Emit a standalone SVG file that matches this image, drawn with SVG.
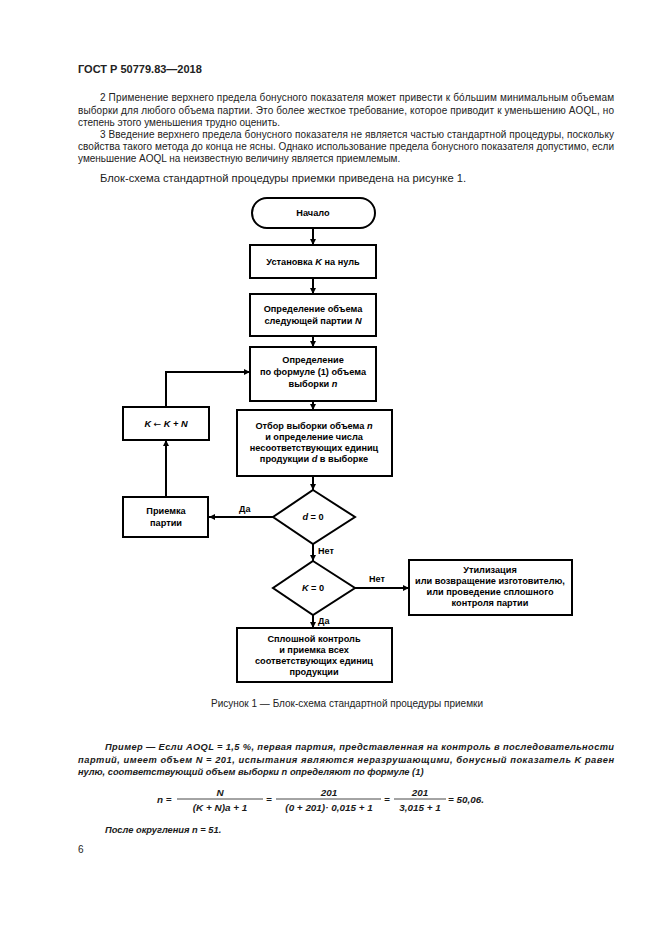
<svg xmlns="http://www.w3.org/2000/svg" width="661" height="935" viewBox="0 0 661 935">
<defs>
<marker id="ah" viewBox="0 0 6 6" refX="6" refY="3" markerWidth="6" markerHeight="6" markerUnits="userSpaceOnUse" orient="auto">
<path d="M0,0 L6,3 L0,6 Z" fill="#000"/>
</marker>
<style>
.t{font-family:"Liberation Sans",Arial,sans-serif;fill:#222}
.p{font-size:10px}
.h{font-size:11px;font-weight:bold}
.b{font-family:"Liberation Sans",Arial,sans-serif;font-size:9.2px;font-weight:bold;fill:#000;text-anchor:middle}
.bi{font-family:"Liberation Sans",Arial,sans-serif;font-size:9.3px;font-weight:bold;font-style:italic;fill:#1a1a1a}
.f{font-size:9.9px}
.box{fill:#fff;stroke:#000;stroke-width:2}
.ln{fill:none;stroke:#000;stroke-width:2}
.lb{font-family:"Liberation Sans",Arial,sans-serif;font-size:9px;font-weight:bold;fill:#000}
</style>
</defs>
<rect width="661" height="935" fill="#fff"/>

<g id="header">
<text class="t h" x="78" y="73">ГОСТ Р 50779.83—2018</text>
</g>
<g id="notes">
<text class="t p" x="100" y="101" textLength="514" lengthAdjust="spacing">2 Применение верхнего предела бонусного показателя может привести к бóльшим минимальным объемам</text>
<text class="t p" x="78" y="114" textLength="536" lengthAdjust="spacing">выборки для любого объема партии. Это более жесткое требование, которое приводит к уменьшению AOQL, но</text>
<text class="t p" x="78" y="126">степень этого уменьшения трудно оценить.</text>
<text class="t p" x="100" y="138" textLength="514" lengthAdjust="spacing">3 Введение верхнего предела бонусного показателя не является частью стандартной процедуры, поскольку</text>
<text class="t p" x="78" y="150" textLength="536" lengthAdjust="spacing">свойства такого метода до конца не ясны. Однако использование предела бонусного показателя допустимо, если</text>
<text class="t p" x="78" y="162">уменьшение AOQL на неизвестную величину является приемлемым.</text>
<text class="t" x="100" y="182" font-size="11.2">Блок-схема стандартной процедуры приемки приведена на рисунке 1.</text>
</g>

<g id="connectors">
<line class="ln" x1="313" y1="228" x2="313" y2="245" marker-end="url(#ah)"/>
<line class="ln" x1="313" y1="278" x2="313" y2="294" marker-end="url(#ah)"/>
<line class="ln" x1="313" y1="336" x2="313" y2="347" marker-end="url(#ah)"/>
<line class="ln" x1="313" y1="401" x2="313" y2="410" marker-end="url(#ah)"/>
<line class="ln" x1="313" y1="476" x2="313" y2="490" marker-end="url(#ah)"/>
<line class="ln" x1="313" y1="544" x2="313" y2="561" marker-end="url(#ah)"/>
<line class="ln" x1="313" y1="615" x2="313" y2="628" marker-end="url(#ah)"/>
<line class="ln" x1="355" y1="588" x2="409" y2="588" marker-end="url(#ah)"/>
<line class="ln" x1="273" y1="517" x2="209" y2="517" marker-end="url(#ah)"/>
<line class="ln" x1="166" y1="497" x2="166" y2="440" marker-end="url(#ah)"/>
<polyline class="ln" points="166,407 166,372 250,372" marker-end="url(#ah)"/>
<text class="lb" x="318" y="554">Нет</text>
<text class="lb" x="369" y="582">Нет</text>
<text class="lb" x="318" y="624">Да</text>
<text class="lb" x="239" y="512">Да</text>
</g>

<g id="start">
<rect class="box" x="252" y="198" width="123" height="30" rx="15" ry="15"/>
<text class="b" x="313" y="216">Начало</text>
</g>
<g id="setK">
<rect class="box" x="250" y="245" width="126" height="33"/>
<text class="b" x="313" y="265">Установка <tspan font-style="italic">K</tspan> на нуль</text>
</g>
<g id="lotN">
<rect class="box" x="250" y="294" width="126" height="42"/>
<text class="b" x="313" y="312">Определение объема</text>
<text class="b" x="313" y="324">следующей партии <tspan font-style="italic">N</tspan></text>
</g>
<g id="sampleN">
<rect class="box" x="250" y="347" width="126" height="54"/>
<text class="b" x="313" y="363">Определение</text>
<text class="b" x="313" y="375">по формуле (1) объема</text>
<text class="b" x="313" y="387">выборки <tspan font-style="italic">n</tspan></text>
</g>
<g id="select">
<rect class="box" x="237" y="410" width="155" height="66"/>
<text class="b" x="314" y="429">Отбор выборки объема <tspan font-style="italic">n</tspan></text>
<text class="b" x="314" y="440">и определение числа</text>
<text class="b" x="314" y="451">несоответствующих единиц</text>
<text class="b" x="314" y="462">продукции <tspan font-style="italic">d</tspan> в выборке</text>
</g>
<g id="dzero">
<polygon class="box" points="313,490 355,517 313,544 273,517"/>
<text class="b" x="313" y="520"><tspan font-style="italic">d</tspan> = 0</text>
</g>
<g id="kzero">
<polygon class="box" points="313,561 355,588 313,615 273,588"/>
<text class="b" x="313" y="591"><tspan font-style="italic">K</tspan> = 0</text>
</g>
<g id="accept">
<rect class="box" x="123" y="497" width="85" height="40"/>
<text class="b" x="166" y="514">Приемка</text>
<text class="b" x="166" y="526">партии</text>
</g>
<g id="kupdate">
<rect class="box" x="123" y="407" width="86" height="33"/>
<text class="b" x="166" y="427" font-style="italic">K <tspan font-family="DejaVu Sans" font-style="normal" font-weight="normal">←</tspan> K + N</text>
</g>
<g id="reject">
<rect class="box" x="409" y="560" width="163" height="55"/>
<text class="b" x="490" y="573">Утилизация</text>
<text class="b" x="490" y="584">или возвращение изготовителю,</text>
<text class="b" x="490" y="595">или проведение сплошного</text>
<text class="b" x="490" y="606">контроля партии</text>
</g>
<g id="full">
<rect class="box" x="237" y="628" width="155" height="54"/>
<text class="b" x="314" y="642">Сплошной контроль</text>
<text class="b" x="314" y="653">и приемка всех</text>
<text class="b" x="314" y="664">соответствующих единиц</text>
<text class="b" x="314" y="675">продукции</text>
</g>

<g id="caption">
<text class="t p" x="347" y="707" text-anchor="middle">Рисунок 1 — Блок-схема стандартной процедуры приемки</text>
</g>

<g id="example">
<text class="bi" x="105" y="750" textLength="509" lengthAdjust="spacing">Пример — Если AOQL = 1,5 %, первая партия, представленная на контроль в последовательности</text>
<text class="bi" x="78" y="763" textLength="536" lengthAdjust="spacing">партий, имеет объем N = 201, испытания являются неразрушающими, бонусный показатель K равен</text>
<text class="bi" x="78" y="775">нулю, соответствующий объем выборки n определяют по формуле (1)</text>
<text class="bi f" x="157" y="803">n =</text>
<text class="bi f" x="220" y="796" text-anchor="middle">N</text>
<line x1="177" y1="799" x2="263" y2="799" stroke="#1a1a1a" stroke-width="0.8"/>
<text class="bi f" x="220" y="811" text-anchor="middle">(K + N)a + 1</text>
<text class="bi f" x="266" y="803">=</text>
<text class="bi f" x="329" y="796" text-anchor="middle">201</text>
<line x1="276" y1="799" x2="381" y2="799" stroke="#1a1a1a" stroke-width="0.8"/>
<text class="bi f" x="329" y="811" text-anchor="middle">(0 + 201)· 0,015 + 1</text>
<text class="bi f" x="384" y="803">=</text>
<text class="bi f" x="420" y="796" text-anchor="middle">201</text>
<line x1="394" y1="799" x2="446" y2="799" stroke="#1a1a1a" stroke-width="0.8"/>
<text class="bi f" x="420" y="811" text-anchor="middle">3,015 + 1</text>
<text class="bi f" x="448" y="803">= 50,06.</text>
<text class="bi" x="105" y="833">После округления n = 51.</text>
</g>
<g id="pagenum">
<text class="t p" x="78" y="853">6</text>
</g>
</svg>
